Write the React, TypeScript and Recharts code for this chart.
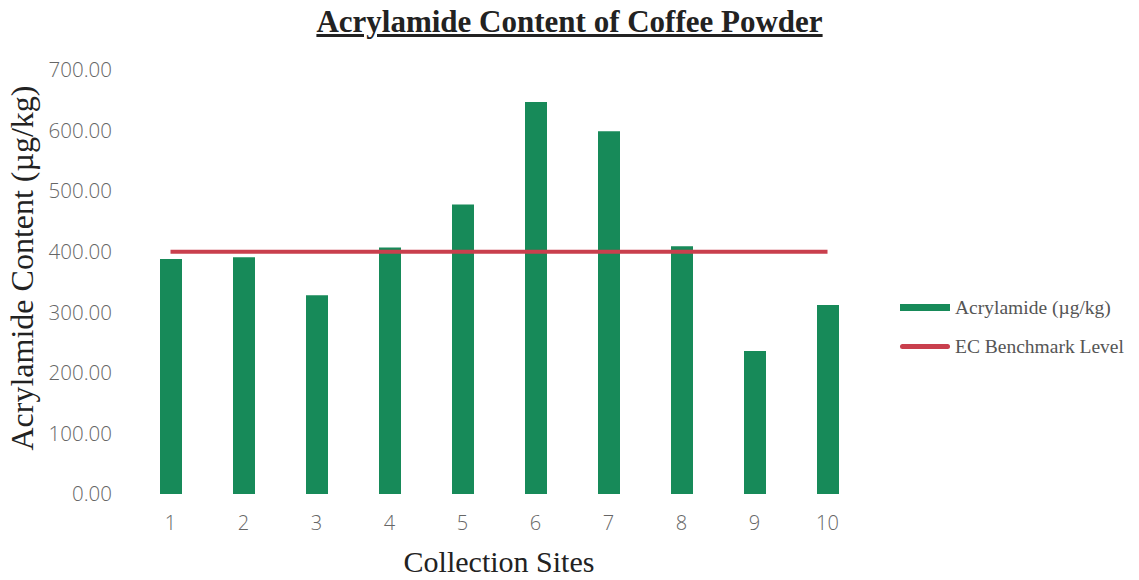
import { ComposedChart, Bar, Line, XAxis, YAxis } from 'recharts'

const sites = ['1', '2', '3', '4', '5', '6', '7', '8', '9', '10']
const acrylamide = [388, 391, 328, 407, 478, 647, 599, 409, 236, 312]
const benchmark = [400, 400, 400, 400, 400, 400, 400, 400, 400, 400]
const yTicks = [0, 100, 200, 300, 400, 500, 600, 700]

const GREEN = '#178a59'
const RED = '#c93f4d'

function LegendBox() {
  const item = (color: string, h: number, label: string, round: boolean) => (
    <div style={{ display: 'flex', alignItems: 'center', height: 39 }}>
      <div style={{ width: 50, height: h, background: color, borderRadius: round ? 3 : 0, marginRight: 5 }} />
      <span style={{ fontFamily: '"Liberation Serif", serif', fontSize: 19.5, color: '#555' }}>{label}</span>
    </div>
  )
  return (
    <div style={{ position: 'absolute', left: 900, top: 288 }}>
      {item(GREEN, 7, 'Acrylamide (µg/kg)', false)}
      {item(RED, 5, 'EC Benchmark Level', true)}
    </div>
  )
}

export default function App() {
  const data = sites.map((s, i) => ({ site: s, acrylamide: acrylamide[i], benchmark: benchmark[i] }))

  return (
    <div style={{ position: 'absolute', left: 0, top: 0, width: 1139, height: 580, background: '#fff' }}>
      <div
        style={{
          position: 'absolute',
          top: 4,
          left: 0,
          width: 1139,
          textAlign: 'center',
          fontFamily: '"Liberation Serif", serif',
          fontWeight: 'bold',
          fontSize: 31,
          textDecoration: 'underline',
          color: '#222',
        }}
      >
        Acrylamide Content of Coffee Powder
      </div>
      <ComposedChart width={1139} height={580} data={data} margin={{ top: 70, right: 275, left: 0, bottom: 0 }}>
        <XAxis
          dataKey="site"
          axisLine={false}
          tickLine={false}
          tickSize={0}
          tickMargin={22}
          tick={{ fill: '#666', fontSize: 20, fontFamily: '"Open Sans", sans-serif', fontWeight: 300 }}
          height={86}
          label={{
            value: 'Collection Sites',
            position: 'insideBottom',
            offset: 8,
            fill: '#222',
            fontSize: 30,
            fontFamily: '"Liberation Serif", serif',
          }}
        />
        <YAxis
          domain={[0, 700]}
          ticks={yTicks}
          width={134}
          axisLine={false}
          tickLine={false}
          tickSize={0}
          tickMargin={22}
          tickFormatter={(v: number) => v.toFixed(2)}
          tick={{ fill: '#666', fontSize: 20.5, fontFamily: '"Open Sans", sans-serif', fontWeight: 300 }}
          label={{
            value: 'Acrylamide Content (µg/kg)',
            angle: -90,
            position: 'insideLeft',
            offset: 22,
            dy: -14,
            fill: '#222',
            fontSize: 32,
            fontFamily: '"Liberation Serif", serif',
            style: { textAnchor: 'middle' },
          }}
        />
        <Bar dataKey="acrylamide" fill={GREEN} barSize={22} isAnimationActive={false} />
        <Line
          dataKey="benchmark"
          stroke={RED}
          strokeWidth={4}
          dot={false}
          activeDot={false}
          isAnimationActive={false}
        />
      </ComposedChart>
      <LegendBox />
    </div>
  )
}
